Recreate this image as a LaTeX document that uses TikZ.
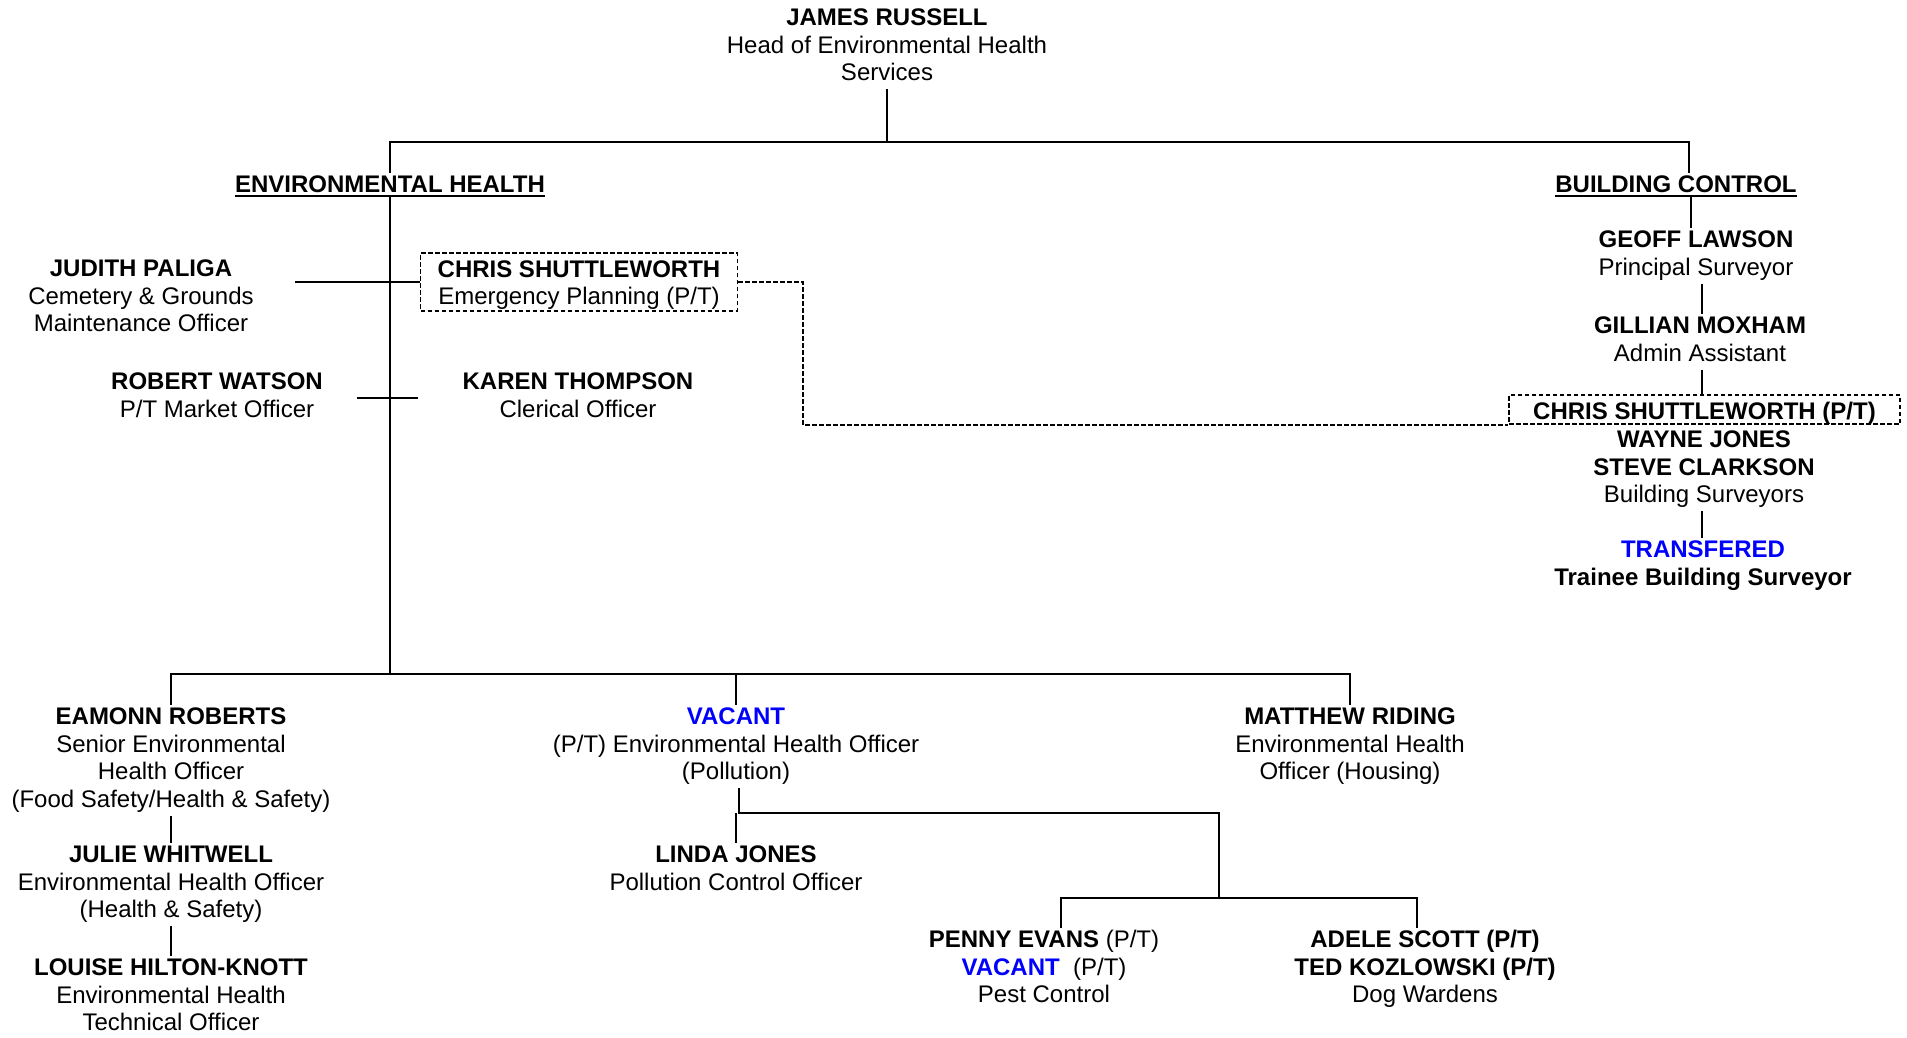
\documentclass[tikz,border=0pt]{standalone}
\usepackage{fontspec}
\setmainfont{Liberation Sans}
\newsavebox{\myulbox}
\newcommand{\myul}[1]{\sbox{\myulbox}{#1}\rlap{\rule[-5pt]{\wd\myulbox}{2pt}}\usebox{\myulbox}}
\definecolor{vblue}{RGB}{0,0,255}
\tikzset{
  pers/.style={align=center, inner sep=0pt, anchor=north, font=\fontsize{24}{27.6}\selectfont},
  hd/.style={inner sep=0pt, anchor=north, text height=19.3pt, text depth=4pt, font=\fontsize{24}{27.6}\selectfont\bfseries},
  dsh/.style={line width=1.5pt, dash pattern=on 4.5pt off 2.5pt},
  dbox/.style={draw, dsh, align=center, inner xsep=17pt, inner ysep=0pt, font=\fontsize{24}{27.6}\selectfont},
  ln/.style={line width=2.1pt},
  lnt/.style={line width=1.7pt},
}
\begin{document}
\begin{tikzpicture}[x=1pt,y=-1pt]
\fill[white] (0,0) rectangle (1907,1038);
\useasboundingbox (0,0) rectangle (1907,1038);

% nodes
\node[pers] (james) at (887,6) {\strut\textbf{JAMES RUSSELL}\\Head of Environmental Health\\Services\strut};
\node[hd] (env) at (390,173) {\myul{ENVIRONMENTAL HEALTH}};
\node[hd] (bc) at (1676,173) {\myul{BUILDING CONTROL}};

\node[pers] (judith) at (141,257) {\strut\textbf{JUDITH PALIGA}\\Cemetery \& Grounds\\Maintenance Officer\strut};
\node[dbox] (chrisL) at (579,282) {\rule{0pt}{24pt}\textbf{CHRIS SHUTTLEWORTH}\\Emergency Planning (P/T)\rule[-6pt]{0pt}{6pt}};
\node[pers] (robert) at (217,370) {\strut\textbf{ROBERT WATSON}\\P/T Market Officer\strut};
\node[pers] (karen) at (578,370) {\strut\textbf{KAREN THOMPSON}\\Clerical Officer\strut};

\node[pers] (geoff) at (1696,228) {\strut\textbf{GEOFF LAWSON}\\Principal Surveyor\strut};
\node[pers] (gillian) at (1700,314) {\strut\textbf{GILLIAN MOXHAM}\\Admin Assistant\strut};
\node[dbox, minimum width=391pt, inner xsep=0pt] (chrisR) at (1704.5,409.5) {\rule[-5pt]{0pt}{29pt}\textbf{CHRIS SHUTTLEWORTH (P/T)}};
\node[pers] (wayne) at (1704,428) {\strut\textbf{WAYNE JONES}\\\textbf{STEVE CLARKSON}\\Building Surveyors\strut};
\node[pers] (trans) at (1703,538) {\strut\textbf{\textcolor{vblue}{TRANSFERED}}\\\textbf{Trainee Building Surveyor}\strut};

\node[pers] (eamonn) at (171,705) {\strut\textbf{EAMONN ROBERTS}\\Senior Environmental\\Health Officer\\(Food Safety/Health \& Safety)\strut};
\node[pers] (julie) at (171,843) {\strut\textbf{JULIE WHITWELL}\\Environmental Health Officer\\(Health \& Safety)\strut};
\node[pers] (louise) at (171,956) {\strut\textbf{LOUISE HILTON-KNOTT}\\Environmental Health\\Technical Officer\strut};

\node[pers] (vacant) at (736,705) {\strut\textbf{\textcolor{vblue}{VACANT}}\\(P/T) Environmental Health Officer\\(Pollution)\strut};
\node[pers] (linda) at (736,843) {\strut\textbf{LINDA JONES}\\Pollution Control Officer\strut};
\node[pers] (matthew) at (1350,705) {\strut\textbf{MATTHEW RIDING}\\Environmental Health\\Officer (Housing)\strut};
\node[pers] (penny) at (1044,928) {\strut\textbf{PENNY EVANS} (P/T)\\\textbf{\textcolor{vblue}{VACANT}}\ \ (P/T)\\Pest Control\strut};
\node[pers] (adele) at (1425,928) {\strut\textbf{ADELE SCOTT (P/T)}\\\textbf{TED KOZLOWSKI (P/T)}\\Dog Wardens\strut};

% junction coordinates
\coordinate (tl) at (389,142);
\coordinate (bcx) at (1689,142);
\coordinate (bb) at (389,674);
\coordinate (jl) at (295,282);
\coordinate (vj) at (739,813);
\coordinate (pj) at (1219,813);
\coordinate (pl) at (1061,898);
\coordinate (pr) at (1417,898);
\coordinate (rc) at (1691,0);
\coordinate (rc2) at (1702,0);

% connectors
\draw[ln] (james.south) -- (james.south |- tl);
\draw[ln] (env.north) -- (env.north |- tl) -- (bcx) -- (bcx |- bc.north);
\draw[ln] (env.south) -- (env.south |- bb);
\draw[ln] (jl) -- (chrisL.west);
\draw[ln] ([xshift=34pt]robert.east) -- ([xshift=-44pt]karen.west);
\draw[ln] (eamonn.north) -- (eamonn.north |- bb) -- (matthew.north |- bb) -- (matthew.north);
\draw[ln] (vacant.north) -- (vacant.north |- bb);
\draw[ln] (eamonn.south) -- (julie.north);
\draw[ln] (julie.south) -- (louise.north);
\draw[ln] (vacant.south -| vj) -- (vj) -- (pj) -- (pj |- pl);
\draw[ln] (linda.north) -- (linda.north |- vj);
\draw[ln] (pl |- penny.north) -- (pl) -- (pr) -- (pr |- adele.north);

\draw[lnt] (bc.south -| rc) -- (geoff.north -| rc);
\draw[lnt] (geoff.south -| rc2) -- (gillian.north -| rc2);
\draw[lnt] (gillian.south -| rc2) -- (chrisR.north -| rc2);
\draw[lnt] (wayne.south -| rc2) -- (trans.north -| rc2);

\draw[dsh] (chrisL.east) -- ++(65,0) |- (chrisR.south west);
\end{tikzpicture}
\end{document}
